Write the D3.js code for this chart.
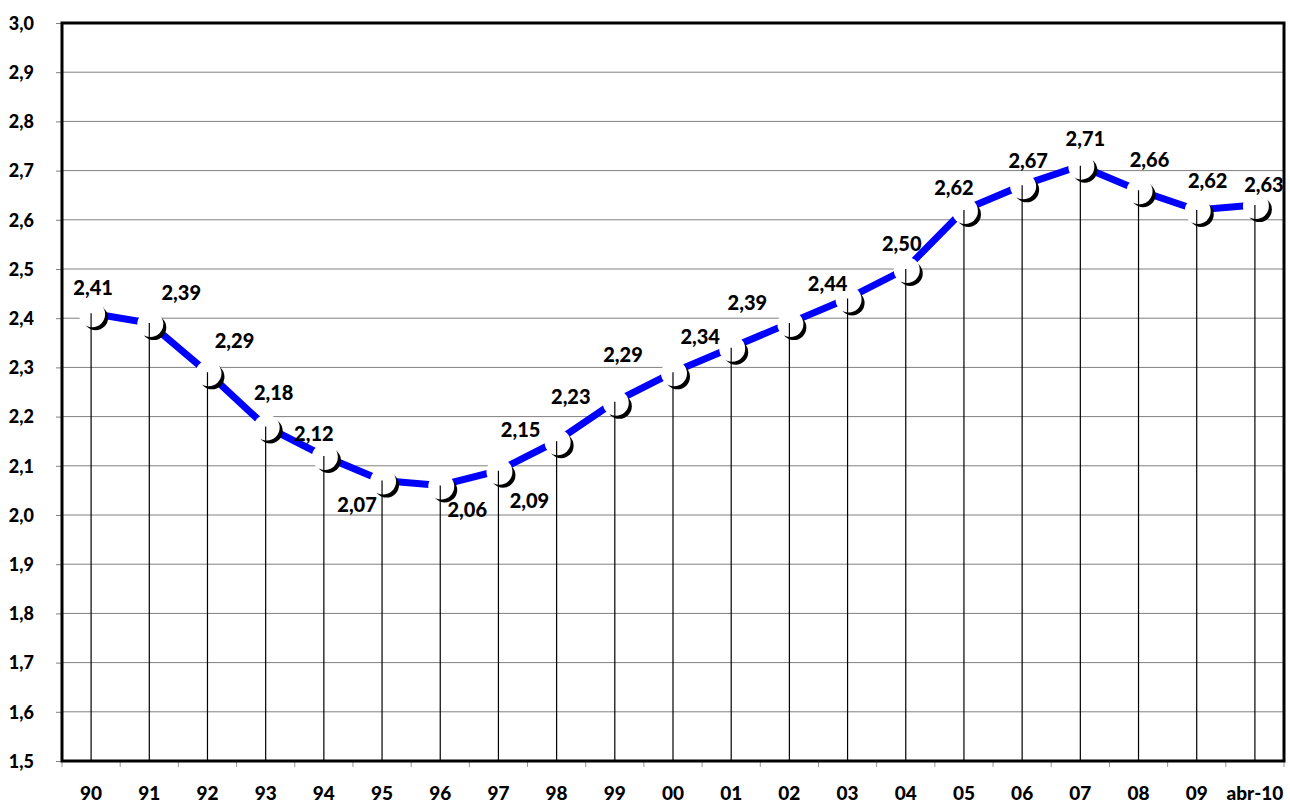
<!DOCTYPE html>
<html>
<head>
<meta charset="utf-8">
<script src="https://cdn.jsdelivr.net/npm/d3@7"></script>
<style>
body{margin:0;background:#fff;}
text{font-family:Lato,"DejaVu Sans",sans-serif;font-weight:900;}
</style>
</head>
<body>
<script>
var years = ['90','91','92','93','94','95','96','97','98','99','00','01','02','03','04','05','06','07','08','09','abr-10'];
var values = [2.41,2.39,2.29,2.18,2.12,2.07,2.06,2.09,2.15,2.23,2.29,2.34,2.39,2.44,2.50,2.62,2.67,2.71,2.66,2.62,2.63];
var yTicks = [1.5,1.6,1.7,1.8,1.9,2.0,2.1,2.2,2.3,2.4,2.5,2.6,2.7,2.8,2.9,3.0];
// where each value label sits, relative to its point (dx, baseline dy)
var labelOffsets = [[2,-18],[32,-23],[27,-24],[8,-26],[-10,-15],[-25,31],[27,32],[31,37],[-36,-4],[-44,2],[-50,-10],[-31,-4],[-42,-13],[-20,-8],[-4,-18],[-10,-15],[6,-17],[5,-20],[11,-23],[11,-22],[9,-13]];

var width = 1290, height = 805, margin = {left:62,top:23,right:6,bottom:44};
var g_width = width - margin.left - margin.right, g_height = height - margin.top - margin.bottom;
var fmt = function(v,n){return v.toFixed(n).replace('.',',');};

var svg = d3.select('body').append('svg').attr('width',width).attr('height',height);
var g = svg.append('g').attr('transform','translate('+margin.left+','+margin.top+')');

var scale_x = d3.scaleBand().domain(years).range([0,g_width]);
var scale_y = d3.scaleLinear().domain([1.5,3.0]).range([g_height,0]);
var cx = function(i){return scale_x(years[i]) + scale_x.bandwidth()/2;};

// grid lines
g.append('g').selectAll('line').data(yTicks.slice(1,-1)).enter().append('line')
.attr('x1',0).attr('x2',g_width).attr('y1',function(d){return scale_y(d);}).attr('y2',function(d){return scale_y(d);})
.attr('stroke','#808080').attr('stroke-width',1);

// y axis
var y_axis = d3.axisLeft(scale_y).tickValues(yTicks).tickSize(6).tickPadding(22).tickFormat(function(d){return fmt(d,1);});
var ya = g.append('g').call(y_axis);
ya.select('.domain').remove();
ya.selectAll('line').attr('stroke','#808080');
ya.selectAll('text').attr('font-size',18).attr('fill','#000').attr('dy','0.35em');

// x axis ticks at band edges
var edges = years.map(function(d){return scale_x(d);}).concat([g_width]);
g.append('g').selectAll('line').data(edges).enter().append('line')
.attr('x1',function(d){return d;}).attr('x2',function(d){return d;}).attr('y1',g_height).attr('y2',g_height+6)
.attr('stroke','#999').attr('stroke-width',1);
g.append('g').selectAll('text').data(years).enter().append('text')
.attr('x',function(d,i){return cx(i);}).attr('y',g_height+39)
.attr('text-anchor','middle').attr('font-size',19).text(function(d){return d;});

// line
var line_generator = d3.line().x(function(d,i){return cx(i);}).y(function(d){return scale_y(d);});
g.append('path').attr('d',line_generator(values)).attr('fill','none')
.attr('stroke','#0000ff').attr('stroke-width',7);

// markers: white disc with a dark shadow to the lower right
var mk = g.append('g').selectAll('g').data(values).enter().append('g')
.attr('transform',function(d,i){return 'translate('+cx(i)+','+scale_y(d)+')';});
mk.append('circle').attr('cx',4.5).attr('cy',4.5).attr('r',12.5).attr('fill','#000');
mk.append('circle').attr('cx',1).attr('cy',1).attr('r',13).attr('fill','#fff');

// drop lines
g.append('g').selectAll('line').data(values).enter().append('line')
.attr('x1',function(d,i){return cx(i);}).attr('x2',function(d,i){return cx(i);})
.attr('y1',function(d){return scale_y(d);}).attr('y2',g_height)
.attr('stroke','#000').attr('stroke-width',1.2);

// frame
g.append('rect').attr('x',0).attr('y',0).attr('width',g_width).attr('height',g_height)
.attr('fill','none').attr('stroke','#000').attr('stroke-width',3);

// value labels
g.append('g').selectAll('text').data(values).enter().append('text')
.attr('x',function(d,i){return cx(i)+labelOffsets[i][0];})
.attr('y',function(d,i){return scale_y(d)+labelOffsets[i][1];})
.attr('text-anchor','middle').attr('font-size',20).text(function(d){return fmt(d,2);});
</script>
</body>
</html>
